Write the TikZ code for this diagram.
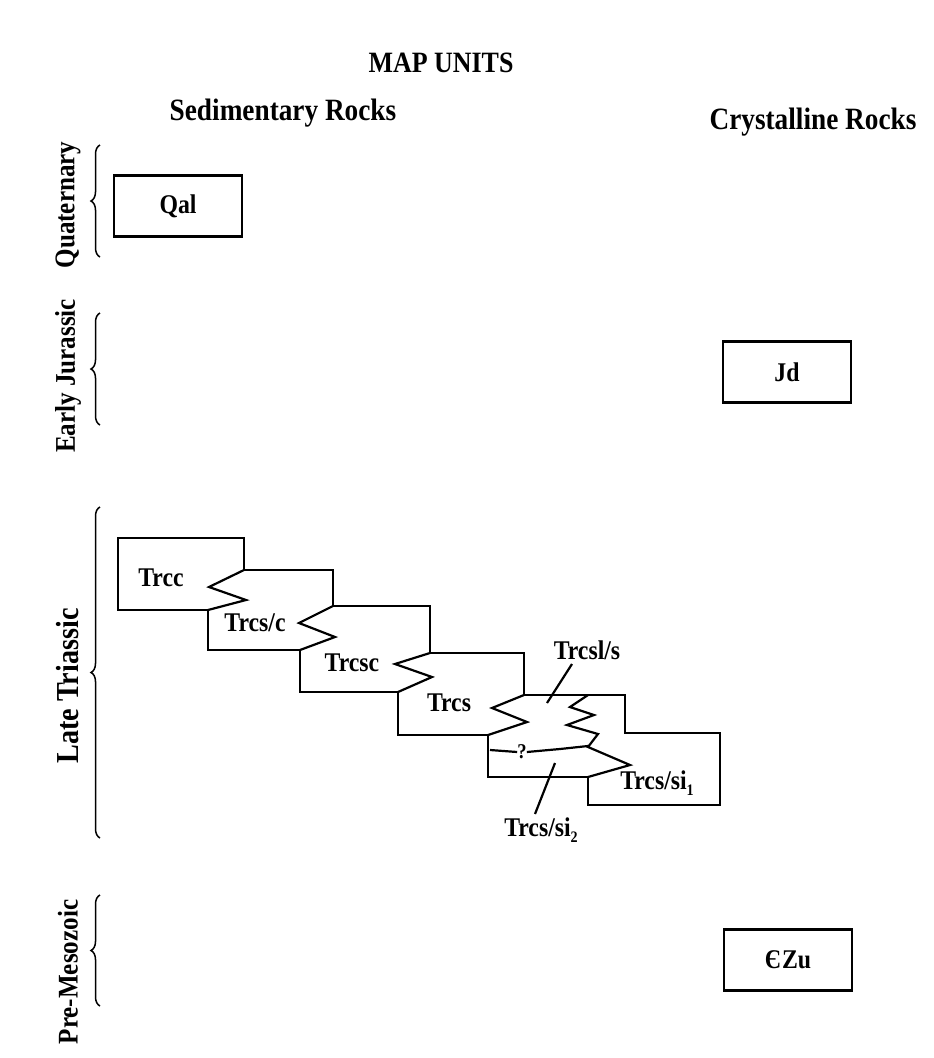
\documentclass[tikz,border=0pt]{standalone}
\usepackage{fontspec}
\setmainfont{Liberation Serif}[FakeStretch=0.88]
\usetikzlibrary{decorations.pathreplacing}
\newcommand{\lowsub}[1]{\raisebox{-0.45ex}{\fontsize{16}{16}\selectfont #1}}
\tikzset{
  lbl/.style={font=\bfseries\fontsize{27}{27}\selectfont, inner sep=0pt},
  head/.style={font=\bfseries\fontsize{29.5}{29.5}\selectfont, inner sep=0pt},
  subhead/.style={font=\bfseries\fontsize{31}{31}\selectfont, inner sep=0pt},
  era/.style={font=\bfseries\fontsize{28.5}{28.5}\selectfont, inner sep=0pt, rotate=90},
  unitbox/.style={draw, line width=2.2pt, minimum width=128pt, minimum height=61pt, inner sep=0pt, font=\bfseries\fontsize{27}{27}\selectfont},
  outline/.style={draw, line width=2.2pt, line join=miter},
  zz/.style={draw, line width=2.2pt, line join=miter},
  leader/.style={draw, line width=2.2pt},
  brc/.style={draw, line width=1.5pt, decorate, decoration={brace, amplitude=9pt, aspect=0.5}}
}
\begin{document}
\begin{tikzpicture}[x=1pt, y=-1pt]
\useasboundingbox (0,0) rectangle (934,1058);
\fill[white] (0,0) rectangle (934,1058);

% headings
\node[head] (title) at (441,63) {MAP UNITS};
\node[subhead] (sed) at (283,113) {Sedimentary Rocks};
\node[subhead] (cry) at (813,122) {Crystalline Rocks};

% era labels
\node[era] (quat) at (68,205) {Quaternary};
\node[era] (ejur) at (68,376) {Early Jurassic};
\node[era, font=\bfseries\fontsize{32}{32}\selectfont] (ltri) at (68,686) {Late Triassic};
\node[era] (prem) at (68,972) {Pre-Mesozoic};

% braces
\draw[brc] (100,257) -- (100,145);
\draw[brc] (100,425) -- (100,313);
\draw[brc] (100,838) -- (100,507);
\draw[brc] (100,1006) -- (100,895);

% single boxes
\node[unitbox] (qal) at (178,206) {Qal};
\node[unitbox] (jd) at (787,372) {Jd};
\node[unitbox] (czu) at (788,960) {Є\kern1ptZu};

% stair outline
\draw[outline] (118,538) -- (244,538) -- (244,570) -- (333,570) -- (333,606)
  -- (430,606) -- (430,653) -- (524,653) -- (524,695) -- (625,695) -- (625,733)
  -- (720,733) -- (720,805) -- (588,805) -- (588,777) -- (488,777) -- (488,735)
  -- (398,735) -- (398,692) -- (300,692) -- (300,650) -- (208,650) -- (208,610)
  -- (118,610) -- cycle;

% zigzag contacts
\draw[zz] (244,570) -- (209,587) -- (246,600) -- (208,610);
\draw[zz] (333,606) -- (299,623) -- (335,637) -- (300,650);
\draw[zz] (430,653) -- (395,664) -- (432,677) -- (398,692);
\draw[zz] (524,695) -- (492,708) -- (527,722) -- (488,735);
\draw[zz] (588,695) -- (570,707) -- (594,715) -- (567,725) -- (598,734) -- (588,747)
  -- (630,765) -- (616,769) -- (588,777);

% queried contact
\node[lbl, font=\bfseries\fontsize{21}{21}\selectfont] (q) at (522,752) {?};
\draw[leader] (490,750) -- (q.west);
\draw[leader] (q.east) -- (560,749) -- (588,746);

% unit labels
\node[lbl] (trcc) at (161,578) {Trcc};
\node[lbl] (trcsc1) at (255,623) {Trcs/c};
\node[lbl] (trcsc) at (352,663) {Trcsc};
\node[lbl] (trcs) at (449,703) {Trcs};
\node[lbl] (trcsls) at (587,650) {Trcsl/s};
\node[lbl] (si1) at (657,783) {Trcs/si\lowsub{1}};
\node[lbl] (si2) at (541,830) {Trcs/si\lowsub{2}};

% leaders
\coordinate (p1) at (547,703);
\coordinate (p2) at (555,763);
\draw[leader] (572,664) -- (p1);
\draw[leader] (535,814) -- (p2);
\end{tikzpicture}
\end{document}
